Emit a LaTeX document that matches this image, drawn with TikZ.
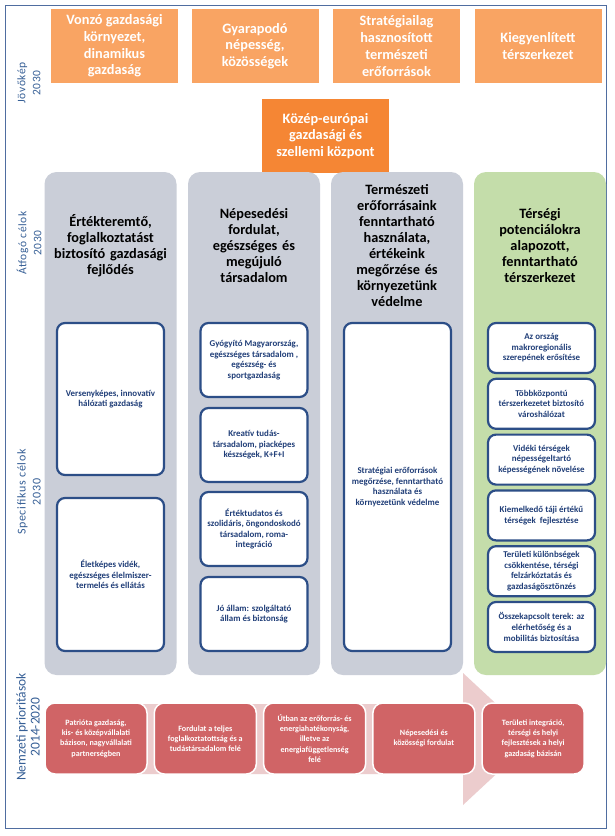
\documentclass[tikz,border=0pt]{standalone}
\usepackage{fontspec}
\setmainfont{Carlito}
\newfontfamily\lblfont[LetterSpace=6]{Carlito}
\definecolor{frameblue}{RGB}{79,109,160}
\definecolor{lblblue}{RGB}{54,95,150}
\definecolor{orangel}{RGB}{249,164,99}
\definecolor{oranged}{RGB}{245,134,52}
\definecolor{greycol}{RGB}{202,206,216}
\definecolor{greencol}{RGB}{196,221,170}
\definecolor{innerborder}{RGB}{44,78,135}
\definecolor{innertext}{RGB}{32,62,120}
\definecolor{redbox}{RGB}{208,100,102}
\definecolor{arrowpink}{RGB}{236,204,205}
\begin{document}
\begin{tikzpicture}[x=1pt,y=-1pt,
  topbox/.style={fill=orangel, minimum width=127pt, minimum height=74pt, inner sep=0pt, align=center, text=white, font=\fontsize{14.3}{16.7}\selectfont\bfseries},
  centerbox/.style={topbox, fill=oranged},
  column/.style={fill=greycol, rounded corners=12pt, minimum width=132pt, minimum height=503pt, inner sep=0pt},
  header/.style={align=center, text width=130pt, font=\fontsize{14.3}{16}\selectfont\bfseries, text=black},
  inner/.style={draw=innerborder, line width=2.2pt, fill=white, rounded corners=8pt, minimum width=107pt, inner sep=0pt, align=center, text=innertext, font=\fontsize{8.9}{10.6}\selectfont\bfseries},
  redb/.style={draw=white, line width=1.5pt, fill=redbox, rounded corners=10pt, minimum width=102pt, minimum height=71pt, inner sep=0pt, align=center, text=white, font=\fontsize{8.1}{10.3}\selectfont\bfseries},
  lbl/.style={rotate=90, align=center, text=lblblue, inner sep=0pt}
]
\useasboundingbox (0,0) rectangle (614,836);
\fill[white] (0,0) rectangle (614,836);
\draw[frameblue, line width=1pt] (5,5) rectangle (606,828);

% left labels
\node[lbl, font=\lblfont\fontsize{11.5}{15}\selectfont] (ljov) at (29,83) {Jövőkép\\2030};
\node[lbl, font=\lblfont\fontsize{11.5}{15}\selectfont] (latf) at (29,243) {Átfogó célok\\2030};
\node[lbl, font=\lblfont\fontsize{12}{15}\selectfont] (lspec) at (29,492) {Specifikus célok\\2030};
\node[lbl, font=\fontsize{13.5}{14}\selectfont] (lnemz) at (28,727) {Nemzeti prioritások\\2014-2020};

% top vision boxes
\node[topbox] (v1) at (114.5,46) {Vonzó gazdasági\\környezet,\\dinamikus\\gazdaság};
\node[topbox] (v2) at (255,46) {Gyarapodó\\népesség,\\közösségek};
\node[topbox] (v3) at (396.5,46) {Stratégiailag\\hasznosított\\természeti\\erőforrások};
\node[topbox] (v4) at (538,46) {Kiegyenlített\\térszerkezet};
\node[centerbox] (vc) at (325.5,136) {Közép-európai\\gazdasági és\\szellemi központ};

% columns
\node[column] (c1) at (110.5,423.5) {};
\node[column] (c2) at (254,423.5) {};
\node[column] (c3) at (397,423.5) {};
\node[column, fill=greencol] (c4) at (540,423.5) {};

% headers
\node[header] (h1) at (110.5,246) {Értékteremtő,\\foglalkoztatást\\biztosító gazdasági\\fejlődés};
\node[header] (h2) at (254,246) {Népesedési\\fordulat,\\egészséges és\\megújuló\\társadalom};
\node[header] (h3) at (397,246) {Természeti\\erőforrásaink\\fenntartható\\használata,\\értékeink\\megőrzése és\\környezetünk\\védelme};
\node[header] (h4) at (540,246) {Térségi\\potenciálokra\\alapozott,\\fenntartható\\térszerkezet};

% column 1 specific
\node[inner, minimum height=152pt] (s11) at (110.5,399) {Versenyképes, innovatív\\hálózati gazdaság};
\node[inner, minimum height=153pt] (s12) at (110.5,574.5) {Életképes vidék,\\egészséges élelmiszer-\\termelés és ellátás};

% column 2 specific
\node[inner, minimum height=74pt] (s21) at (254,360) {Gyógyító Magyarország,\\egészséges társadalom ,\\egészség- és\\sportgazdaság};
\node[inner, minimum height=74pt] (s22) at (254,445) {Kreatív tudás-\\társadalom, piacképes\\készségek, K+F+I};
\node[inner, minimum height=74pt] (s23) at (254,529) {Értéktudatos és\\szolidáris, öngondoskodó\\társadalom, roma-\\integráció};
\node[inner, minimum height=74pt] (s24) at (254,614) {Jó állam: szolgáltató\\állam és biztonság};

% column 3 specific
\node[inner, minimum height=328pt] (s31) at (397.5,487) {Stratégiai erőforrások\\megőrzése, fenntartható\\használata és\\környezetünk védelme};

% column 4 specific
\node[inner, minimum height=50pt] (s41) at (541.5,348) {Az ország\\makroregionális\\szerepének erősítése};
\node[inner, minimum height=50pt] (s42) at (541.5,403.8) {Többközpontú\\térszerkezetet biztosító\\városhálózat};
\node[inner, minimum height=50pt] (s43) at (541.5,459.6) {Vidéki térségek\\népességeltartó\\képességének növelése};
\node[inner, minimum height=50pt] (s44) at (541.5,515.4) {Kiemelkedő táji értékű\\térségek\ \ fejlesztése};
\node[inner, minimum height=50pt] (s45) at (541.5,571.2) {Területi különbségek\\csökkentése, térségi\\felzárkóztatás és\\gazdaságösztönzés};
\node[inner, minimum height=50pt] (s46) at (541.5,627) {Összekapcsolt terek: az\\elérhetőség és a\\mobilitás biztosítása};

% national priorities arrow
\fill[arrowpink] (60,704) -- (463,704) -- (463,673) -- (534,739) -- (463,805) -- (463,774) -- (60,774) -- cycle;
\node[redb] (p1) at (96,738.5) {Patrióta gazdaság,\\kis- és középvállalati\\bázison, nagyvállalati\\partnerségben};
\node[redb] (p2) at (205.3,738.5) {Fordulat a teljes\\foglalkoztatottság és a\\tudástársadalom felé};
\node[redb] (p3) at (314.6,738.5) {Útban az erőforrás- és\\energiahatékonyság,\\illetve az\\energiafüggetlenség\\felé};
\node[redb] (p4) at (423.9,738.5) {Népesedési és\\közösségi fordulat};
\node[redb] (p5) at (533.2,738.5) {Területi integráció,\\térségi és helyi\\fejlesztések a helyi\\gazdaság bázisán};
\end{tikzpicture}
\end{document}
